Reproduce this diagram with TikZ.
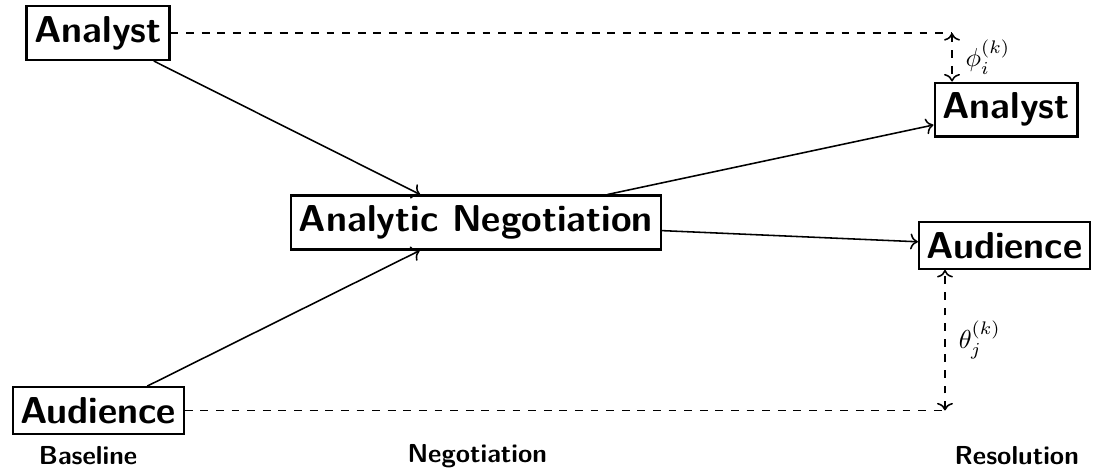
\documentclass[tikz,border=0pt]{standalone}
\usepackage{amsmath,amssymb}
\usepackage{tikz}
\usetikzlibrary{calc,positioning,arrows.meta}

\begin{document}
\begin{tikzpicture}[semithick,
  box/.style={draw,thick,inner xsep=3pt,inner ysep=3.9pt,font=\Large\sffamily\bfseries},
  stage/.style={font=\sffamily\bfseries}]
\useasboundingbox (0,0) rectangle (14.784,-6.365);
\node[box] (analyst0) at (1.324,-0.446) {Analyst};
\node[box] (audience0) at (1.328,-5.547) {Audience};
\node[box] (neg) at (6.432,-3.007) {Analytic Negotiation};
\node[box] (analyst1) at (13.595,-1.48) {Analyst};
\node[box] (audience1) at (13.574,-3.318) {Audience};
\coordinate (tc) at (12.865,-0.446);\coordinate (bc) at (12.77,-5.547);
\draw[->] (analyst0)--(neg);\draw[->] (audience0)--(neg);
\draw[->] (neg)--(analyst1);\draw[->] (neg)--(audience1);
\draw[dashed] (analyst0)--(tc);\draw[dashed,<->] (tc)--(tc |- analyst1.north);
\draw[dashed] (audience0)--(bc);\draw[dashed,<->] (bc)--(bc |- audience1.south);
\node (phi) at (13.35,-0.77) {$\phi_i^{(k)}$};
\node (theta) at (13.24,-4.595) {$\theta_j^{(k)}$};
\node[stage] (base) at (1.19,-6.16) {Baseline};
\node[stage] (nego) at (6.45,-6.16) {Negotiation};
\node[stage] (reso) at (13.74,-6.16) {Resolution};
\end{tikzpicture}
\end{document}
